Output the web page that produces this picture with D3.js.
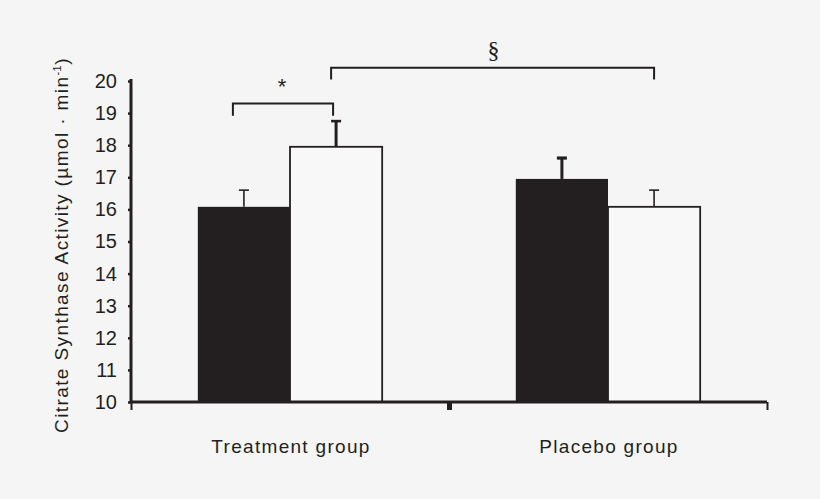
<!DOCTYPE html>
<html lang="en">
<head>
    <meta charset="UTF-8">
    <title>Citrate Synthase Activity</title>
    <script src="https://d3js.org/d3.v7.min.js"></script>
    <style>
        html, body {
            margin: 0;
            padding: 0;
            background: #f5f5f5;
        }
        svg text {
            font-family: "Liberation Sans", Arial, sans-serif;
            fill: #231f20;
        }
    </style>
</head>
<body>
    <svg id="chart" width="820" height="499"></svg>

    <script>
        // data
        const groups = ['Treatment group', 'Placebo group'];
        const series = ['before', 'after'];
        const treatmentMeans = [16.08, 17.95];
        const treatmentErrors = [0.52, 0.8];
        const placeboMeans = [16.95, 16.08];
        const placeboErrors = [0.65, 0.52];
        const yTicks = [10, 11, 12, 13, 14, 15, 16, 17, 18, 19, 20];

        // significance brackets: [group, bar] at each end, level of the bar, symbol
        const brackets = [
            { from: [0, 0], to: [0, 1], level: 19.3, drop: 0.38, label: '*' },
            { from: [0, 1], to: [1, 1], level: 20.41, drop: 0.36, label: '§' }
        ];

        const ink = '#231f20';
        const svg = d3.select('#chart');

        const plotLeft = 131, plotRight = 767, plotTop = 81, plotBottom = 402;

        const x0 = d3.scaleBand().domain(groups).range([plotLeft, plotRight]).padding(0);
        const x1 = d3.scaleBand().domain(series)
            .range([0, x0.bandwidth()])
            .paddingInner(0)
            .paddingOuter(0.725);
        const y = d3.scaleLinear().domain([10, 20]).range([plotBottom, plotTop]);

        const rows = [
            { group: groups[0], means: treatmentMeans, errors: treatmentErrors },
            { group: groups[1], means: placeboMeans, errors: placeboErrors }
        ];
        const bars = [];
        rows.forEach((r, gi) => {
            series.forEach((s, si) => {
                bars.push({ gi, si, group: r.group, key: s, mean: r.means[si], err: r.errors[si] });
            });
        });

        const barX = d => x0(d.group) + x1(d.key);
        const barMid = (gi, si) => x0(groups[gi]) + x1(series[si]) + x1.bandwidth() / 2;

        // error bar line weights per bar (stem, cap) as in the figure
        const errWeight = [[1.6, 1.6], [3, 2.6], [3, 3.2], [1.6, 1.6]];

        // error bars (drawn first, stems sit on top of bar edge)
        const eb = svg.append('g');
        bars.forEach((d, i) => {
            const cx = barMid(d.gi, d.si);
            eb.append('line')
                .attr('x1', cx).attr('x2', cx)
                .attr('y1', y(d.mean)).attr('y2', y(d.mean + d.err))
                .attr('stroke', ink).attr('stroke-width', errWeight[i][0]);
            eb.append('line')
                .attr('x1', cx - 5).attr('x2', cx + 5)
                .attr('y1', y(d.mean + d.err)).attr('y2', y(d.mean + d.err))
                .attr('stroke', ink).attr('stroke-width', errWeight[i][1]);
        });

        // bars
        svg.append('g')
            .selectAll('rect')
            .data(bars)
            .join('rect')
            .attr('x', barX)
            .attr('y', d => y(d.mean))
            .attr('width', x1.bandwidth())
            .attr('height', d => y(10) - y(d.mean))
            .attr('fill', d => d.si === 0 ? ink : '#f8f8f8')
            .attr('stroke', ink)
            .attr('stroke-width', d => d.si === 0 ? 0 : 1.8);

        // y axis
        const yAxis = svg.append('g')
            .attr('transform', `translate(${plotLeft},0)`)
            .call(d3.axisLeft(y).tickValues(yTicks).tickSize(3).tickSizeOuter(0).tickPadding(11));
        yAxis.select('.domain')
            .attr('stroke', ink).attr('stroke-width', 3)
            .attr('d', `M0,${plotBottom + 1}V${plotTop - 2}`);
        yAxis.selectAll('.tick line').attr('stroke', ink).attr('stroke-width', 2.5);
        yAxis.selectAll('.tick text')
            .style('font-size', '20px')
            .style('font-family', '"Liberation Sans", Arial, sans-serif')
            .attr('fill', ink);

        // x axis: ticks at group boundaries
        const xb = d3.scaleLinear().domain([0, groups.length]).range([plotLeft, plotRight]);
        const xAxis = svg.append('g')
            .attr('transform', `translate(0,${plotBottom})`)
            .call(d3.axisBottom(xb).tickValues(d3.range(groups.length + 1)).tickFormat('').tickSize(8).tickSizeOuter(0));
        xAxis.select('.domain').attr('stroke', ink).attr('stroke-width', 3)
            .attr('d', `M${plotLeft - 1},0H${plotRight}`);
        xAxis.selectAll('.tick line')
            .attr('stroke', ink)
            .attr('stroke-width', (d, i) => (i === 0 || i === groups.length) ? 2 : 5);

        // group labels
        svg.append('g')
            .selectAll('text')
            .data(groups)
            .join('text')
            .attr('x', d => x0(d) + x0.bandwidth() / 2 + 1)
            .attr('y', 453)
            .attr('text-anchor', 'middle')
            .style('font-size', '19px')
            .style('letter-spacing', '1.3px')
            .text(d => d);

        // y axis title
        const title = svg.append('text')
            .attr('transform', 'translate(68,245) rotate(-90)')
            .attr('text-anchor', 'middle')
            .style('font-size', '19px')
            .style('letter-spacing', '1.4px');
        title.append('tspan').text('Citrate Synthase Activity (µmol · min');
        title.append('tspan').attr('dy', -7).style('font-size', '11px').style('letter-spacing', '0.5px').text('-1');
        title.append('tspan').attr('dy', 7).text(')');

        // significance brackets
        const bg = svg.append('g');
        brackets.forEach((b, i) => {
            const xa = barMid(b.from[0], b.from[1]) + (i === 0 ? -11 : -5);
            const xz = barMid(b.to[0], b.to[1]) + (i === 0 ? -3 : 0);
            bg.append('path')
                .attr('d', `M${xa},${y(b.level - b.drop)}V${y(b.level)}H${xz}V${y(b.level - b.drop)}`)
                .attr('fill', 'none')
                .attr('stroke', ink)
                .attr('stroke-width', 2);
            const lx = (xa + xz) / 2;
            if (b.label === '*') {
                bg.append('text')
                    .attr('x', lx - 1).attr('y', y(b.level) - 9)
                    .attr('text-anchor', 'middle')
                    .style('font-size', '22px')
                    .text(b.label);
            } else {
                bg.append('text')
                    .attr('x', lx + 1).attr('y', y(b.level) - 10)
                    .attr('text-anchor', 'middle')
                    .style('font-family', '"Liberation Serif", "Times New Roman", serif')
                    .style('font-size', '24px')
                    .text(b.label);
            }
        });
    </script>
</body>
</html>
